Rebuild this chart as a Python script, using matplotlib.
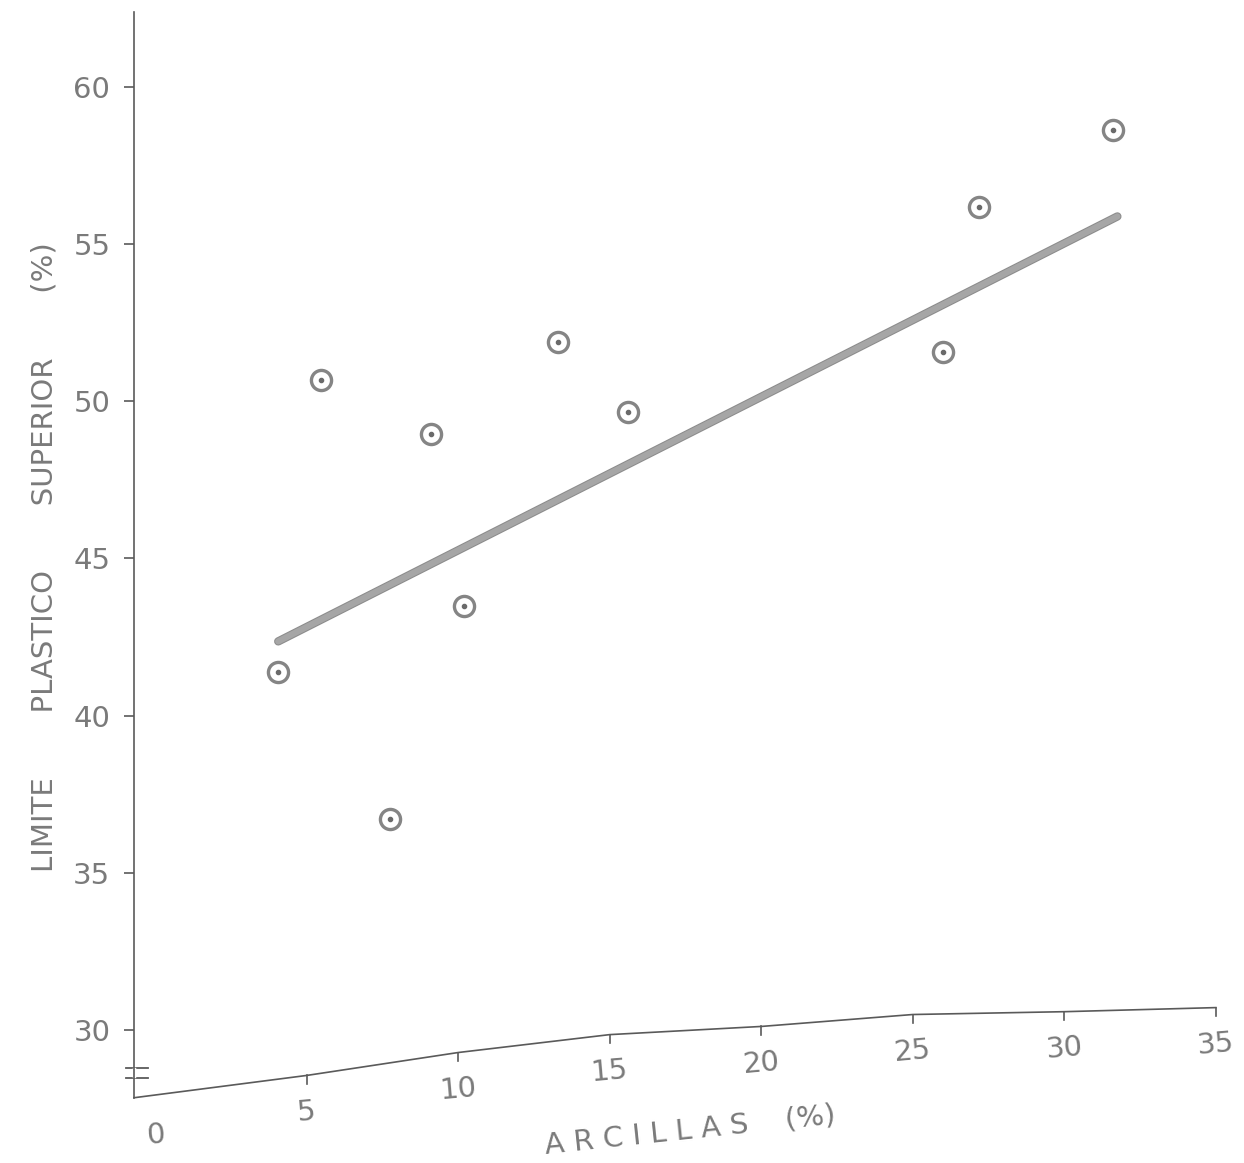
import numpy as np
import matplotlib.pyplot as plt
import matplotlib.patheffects as pe

# datos
arcillas = [4.06, 5.48, 7.76, 9.11, 10.2, 13.3, 15.6, 26.0, 27.2, 31.6]
limite_sup = [41.37, 50.67, 36.72, 48.95, 43.5, 51.9, 49.65, 51.56, 56.18, 58.63]

recta_x = [4.06, 31.75]
recta_y = [42.36, 55.89]

y_ticks = [30, 35, 40, 45, 50, 55, 60]
x_ticks = [0, 5, 10, 15, 20, 25, 30, 35]
# eje x dibujado a mano (algo inclinado en el escaneo)
eje_x_base = [27.83, 28.54, 29.27, 29.84, 30.10, 30.48, 30.57, 30.70]

gris_txt = "#7a7a7a"
gris_eje = "#5a5a5a"
fs = 21

fig = plt.figure(figsize=(12.44, 11.63), dpi=100)
ax = fig.add_axes([0.1077, 0.0499, 0.8843, 0.9398])
ax.set_xlim(-0.7, 35.6)
ax.set_ylim(27.6, 62.4)

for s in ["top", "right", "bottom"]:
    ax.spines[s].set_visible(False)
ax.spines["left"].set_color(gris_eje)
ax.spines["left"].set_linewidth(1.2)
ax.spines["left"].set_bounds(27.83, 62.4)

ax.set_yticks(y_ticks)
ax.set_yticklabels([str(v) for v in y_ticks])
ax.tick_params(axis="y", direction="out", length=7, width=1.2, color=gris_eje,
               pad=10, labelsize=fs, labelcolor=gris_txt)
ax.set_xticks([])

# corte del eje y
ax.plot([-0.95, -0.25], [28.79, 28.79], color=gris_eje, lw=1.3, clip_on=False)
ax.plot([-0.95, -0.25], [28.47, 28.47], color=gris_eje, lw=1.3, clip_on=False)
ax.plot([-0.7, -0.7], [28.52, 28.74], color="white", lw=2.5, clip_on=False)

# eje x
eje_xx = [-0.7] + x_ticks[1:]
ax.plot(eje_xx, eje_x_base, color=gris_eje, lw=1.2, clip_on=False)
for xv, yb in zip(x_ticks[1:], eje_x_base[1:]):
    ax.plot([xv, xv], [yb, yb - 0.28], color=gris_eje, lw=1.2, clip_on=False)
for xv, yb in zip(x_ticks, eje_x_base):
    ax.text(xv, yb - 1.18, str(xv), ha="center", va="center", fontsize=fs,
            color=gris_txt, rotation=5, clip_on=False)

# recta de ajuste
ax.plot(recta_x, recta_y, color="#a6a6a6", lw=4.5, solid_capstyle="round",
        path_effects=[pe.Stroke(linewidth=6, foreground="#8c8c8c"), pe.Normal()])

# puntos
ax.plot(arcillas, limite_sup, "o", ms=14.5, mfc="white", mec="#858585", mew=2.4)
ax.plot(arcillas, limite_sup, "o", ms=3, mfc="#6a6a6a", mec="#6a6a6a")

ax.text(17.66, 26.78, "A R C I L L A S    (%)", ha="center", va="center",
        fontsize=fs, color=gris_txt, rotation=6, clip_on=False)

fig.text(45 / 1244, 1 - 557 / 1163,
         "LIMITE       PLASTICO       SUPERIOR       (%)",
         rotation=90, ha="center", va="center", fontsize=fs, color=gris_txt)

plt.savefig("out.png", dpi=100)
